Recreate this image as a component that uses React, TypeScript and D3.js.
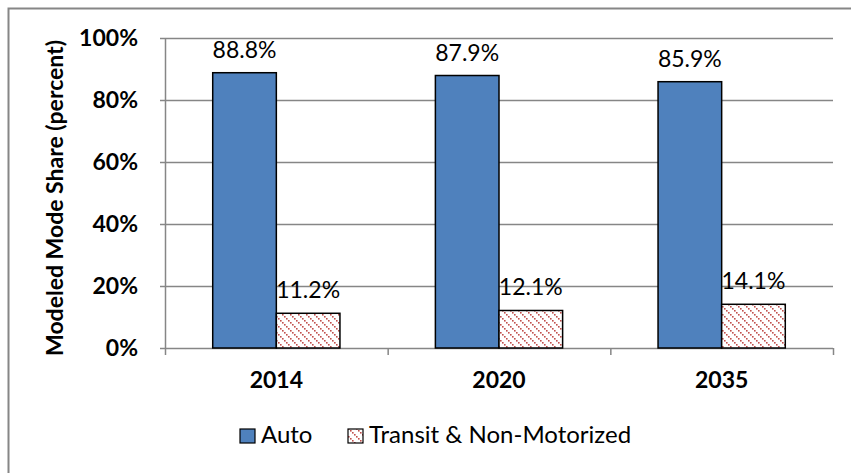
import * as d3 from "d3";

const years = ["2014", "2020", "2035"];
const autoShare = [88.8, 87.9, 85.9];
const transitShare = [11.2, 12.1, 14.1];
const yTicks = [0, 20, 40, 60, 80, 100];
const seriesNames = ["Auto", "Transit & Non-Motorized"];

const W = 851;
const H = 473;
const plot = { left: 165, right: 833, top: 38, bottom: 348 };
const FONT = "Lato, 'Open Sans', sans-serif";
const BLUE = "#4f81bd";
const RED = "#c0504d";

export default function App() {
  const x = d3
    .scaleBand<string>()
    .domain(years)
    .range([plot.left, plot.right])
    .paddingInner(0)
    .paddingOuter(0);
  const y = d3.scaleLinear().domain([0, 100]).range([plot.bottom, plot.top]);

  // gap width ~150% of one bar, like the Excel default
  const barW = x.bandwidth() / (2 + 1.5);
  const sub = d3
    .scaleBand<number>()
    .domain([0, 1])
    .range([0, barW * 2]);

  const series = [
    { name: seriesNames[0], values: autoShare, fill: BLUE },
    { name: seriesNames[1], values: transitShare, fill: "url(#hatch)" },
  ];

  return (
    <svg
      width={W}
      height={H}
      style={{ position: "absolute", left: 0, top: 0, background: "#fff" }}
    >
      <defs>
        {/* dotted downward diagonal, red on white */}
        <pattern id="hatch" width={8} height={8} patternUnits="userSpaceOnUse">
          <rect width={8} height={8} fill="#fff" />
          {[0, 2, 4, 6].map((k) => (
            <rect key={k} x={k} y={k} width={1.6} height={1.6} fill={RED} />
          ))}
        </pattern>
      </defs>

      {/* outer chart frame, cut off on the right and bottom */}
      <rect
        x={8.5}
        y={8.5}
        width={W + 20}
        height={H + 20}
        fill="none"
        stroke="#868686"
        strokeWidth={2}
      />

      {/* gridlines */}
      {yTicks.map((t) => (
        <g key={t}>
          <line
            x1={plot.left - 5}
            x2={plot.right}
            y1={Math.round(y(t)) + 0.5}
            y2={Math.round(y(t)) + 0.5}
            stroke="#868686"
            strokeWidth={1.5}
          />
          <text
            x={plot.left - 27}
            y={y(t)}
            dy="0.36em"
            textAnchor="end"
            fontFamily={FONT}
            fontWeight="bold"
            fontSize={23}
            fill="#000"
          >
            {t}%
          </text>
        </g>
      ))}

      {/* axes */}
      <line
        x1={plot.left + 0.5}
        x2={plot.left + 0.5}
        y1={plot.top}
        y2={plot.bottom}
        stroke="#868686"
        strokeWidth={1.5}
      />
      {[...years.map((c) => x(c)!), plot.right].map((v, i) => (
        <line
          key={i}
          x1={v + 0.5}
          x2={v + 0.5}
          y1={plot.bottom}
          y2={plot.bottom + 7}
          stroke="#868686"
          strokeWidth={1.5}
        />
      ))}

      {/* bars */}
      {series.map((s, si) =>
        s.values.map((v, i) => {
          const bx = x(years[i])! + (x.bandwidth() - barW * 2) / 2 + sub(si)!;
          return (
            <g key={`${si}-${i}`}>
              <rect
                x={bx}
                y={y(v)}
                width={sub.bandwidth()}
                height={y(0) - y(v)}
                fill={s.fill}
                stroke="#000"
                strokeWidth={1.5}
              />
              <text
                x={bx + sub.bandwidth() / 2}
                y={y(v) - 15}
                textAnchor="middle"
                fontFamily={FONT}
                fontSize={23}
                fill="#000"
              >
                {v.toFixed(1)}%
              </text>
            </g>
          );
        }),
      )}

      {/* category labels */}
      {years.map((c) => (
        <text
          key={c}
          x={x(c)! + x.bandwidth() / 2}
          y={plot.bottom + 40}
          textAnchor="middle"
          fontFamily={FONT}
          fontWeight="bold"
          fontSize={23}
          fill="#000"
        >
          {c}
        </text>
      ))}

      {/* y title */}
      <text
        transform="translate(63,198) rotate(-90)"
        textAnchor="middle"
        fontFamily={FONT}
        fontWeight="bold"
        fontSize={23}
        fill="#000"
      >
        Modeled Mode Share (percent)
      </text>

      {/* legend */}
      {series.map((s, si) => {
        const lx = si === 0 ? 240 : 348;
        return (
          <g key={s.name}>
            <rect
              x={lx}
              y={429}
              width={15}
              height={14}
              fill={s.fill}
              stroke="#000"
              strokeWidth={1.2}
            />
            <text
              x={lx + 21}
              y={443}
              fontFamily={FONT}
              fontSize={24}
              fill="#000"
            >
              {s.name}
            </text>
          </g>
        );
      })}
    </svg>
  );
}
